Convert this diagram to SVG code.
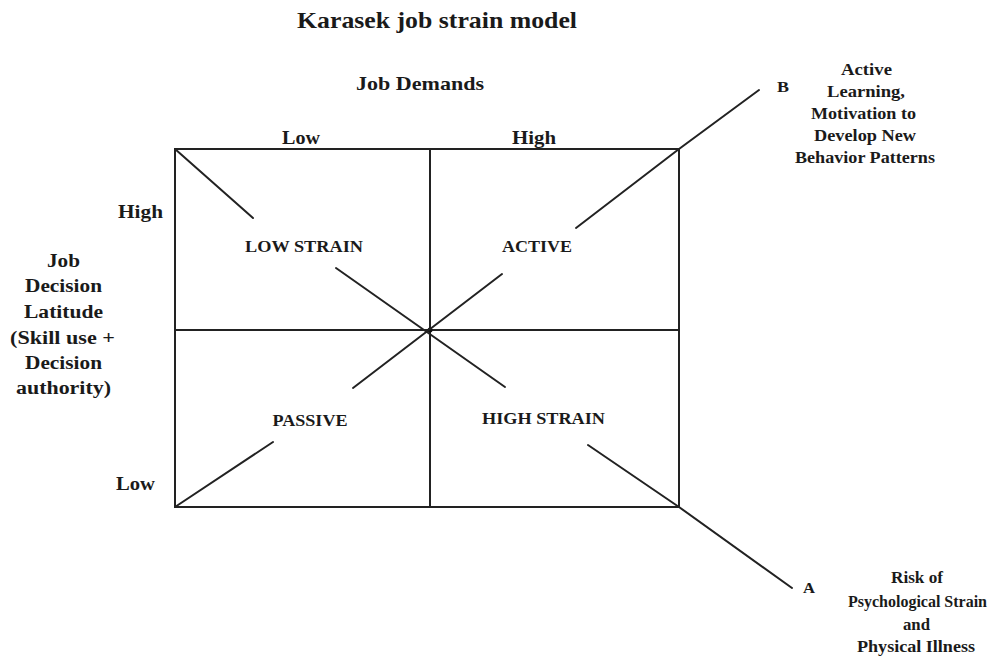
<svg xmlns="http://www.w3.org/2000/svg" width="997" height="657" viewBox="0 0 997 657">
  <style>
    .t { font-family: "Liberation Serif", "Times New Roman", serif; font-weight: bold; fill: #1a1a1a; }
    .ln { stroke: #222; stroke-width: 2; fill: none; stroke-linecap: round; }
    .box { stroke: #222; stroke-width: 2; fill: none; }
  </style>
  <rect width="997" height="657" fill="#ffffff"/>

  <g id="title">
    <text class="t" x="297" y="28" font-size="23" textLength="280" lengthAdjust="spacingAndGlyphs">Karasek job strain model</text>
  </g>
  <g id="axis-demands">
    <text class="t" x="356" y="90" font-size="19" textLength="128" lengthAdjust="spacingAndGlyphs">Job Demands</text>
    <text class="t" x="282" y="144" font-size="18.5" textLength="38" lengthAdjust="spacingAndGlyphs">Low</text>
    <text class="t" x="512" y="144" font-size="18.5" textLength="44" lengthAdjust="spacingAndGlyphs">High</text>
  </g>
  <g id="axis-latitude">
    <text class="t" x="118" y="218" font-size="18.5" textLength="45" lengthAdjust="spacingAndGlyphs">High</text>
    <text class="t" x="116" y="490" font-size="18.5" textLength="39" lengthAdjust="spacingAndGlyphs">Low</text>
    <text class="t" x="47" y="267" font-size="18.5" textLength="33" lengthAdjust="spacingAndGlyphs">Job</text>
    <text class="t" x="25" y="292" font-size="18.5" textLength="77" lengthAdjust="spacingAndGlyphs">Decision</text>
    <text class="t" x="24" y="318" font-size="18.5" textLength="79" lengthAdjust="spacingAndGlyphs">Latitude</text>
    <text class="t" x="10" y="344" font-size="18.5" textLength="105" lengthAdjust="spacingAndGlyphs">(Skill use +</text>
    <text class="t" x="25" y="369" font-size="18.5" textLength="77" lengthAdjust="spacingAndGlyphs">Decision</text>
    <text class="t" x="16" y="394" font-size="18.5" textLength="95" lengthAdjust="spacingAndGlyphs">authority)</text>
  </g>

  <g id="grid">
    <rect class="box" x="175" y="149" width="504" height="358"/>
    <line class="box" x1="430" y1="149" x2="430" y2="507"/>
    <line class="box" x1="175" y1="330" x2="679" y2="330"/>
    <circle cx="430" cy="330" r="2.5" fill="#111"/>
  </g>

  <g id="q-low-strain">
    <text class="t" x="245" y="252" font-size="16.5" textLength="118" lengthAdjust="spacingAndGlyphs">LOW STRAIN</text>
  </g>
  <g id="q-active">
    <text class="t" x="502" y="252" font-size="16.5" textLength="70" lengthAdjust="spacingAndGlyphs">ACTIVE</text>
  </g>
  <g id="q-passive">
    <text class="t" x="272.5" y="426" font-size="16.5" textLength="75" lengthAdjust="spacingAndGlyphs">PASSIVE</text>
  </g>
  <g id="q-high-strain">
    <text class="t" x="482" y="424" font-size="16.5" textLength="123" lengthAdjust="spacingAndGlyphs">HIGH STRAIN</text>
  </g>

  <g id="outcome-b">
    <text class="t" x="777" y="92" font-size="15.5" textLength="12" lengthAdjust="spacingAndGlyphs">B</text>
    <text class="t" x="841" y="75" font-size="16.5" textLength="51" lengthAdjust="spacingAndGlyphs">Active</text>
    <text class="t" x="827" y="97" font-size="16.5" textLength="78" lengthAdjust="spacingAndGlyphs">Learning,</text>
    <text class="t" x="811" y="119" font-size="16.5" textLength="105" lengthAdjust="spacingAndGlyphs">Motivation to</text>
    <text class="t" x="814" y="141" font-size="16.5" textLength="102" lengthAdjust="spacingAndGlyphs">Develop New</text>
    <text class="t" x="795" y="163" font-size="16.5" textLength="140" lengthAdjust="spacingAndGlyphs">Behavior Patterns</text>
  </g>
  <g id="outcome-a">
    <text class="t" x="803" y="593" font-size="15.5" textLength="12" lengthAdjust="spacingAndGlyphs">A</text>
    <text class="t" x="891" y="583" font-size="16" textLength="52" lengthAdjust="spacingAndGlyphs">Risk of</text>
    <text class="t" x="848" y="607" font-size="16" textLength="139" lengthAdjust="spacingAndGlyphs">Psychological Strain</text>
    <text class="t" x="903" y="630" font-size="16" textLength="27" lengthAdjust="spacingAndGlyphs">and</text>
    <text class="t" x="857" y="652" font-size="16" textLength="118" lengthAdjust="spacingAndGlyphs">Physical Illness</text>
  </g>

  <g id="connectors">
    <line class="ln" x1="175" y1="149" x2="253" y2="218"/>
    <line class="ln" x1="336" y1="268" x2="505" y2="387"/>
    <polyline class="ln" points="588,445 679,507 792,588"/>
    <line class="ln" x1="175" y1="507" x2="273" y2="442"/>
    <line class="ln" x1="353" y1="388" x2="502" y2="274"/>
    <polyline class="ln" points="576,228 679,149 759,90"/>
  </g>
</svg>
